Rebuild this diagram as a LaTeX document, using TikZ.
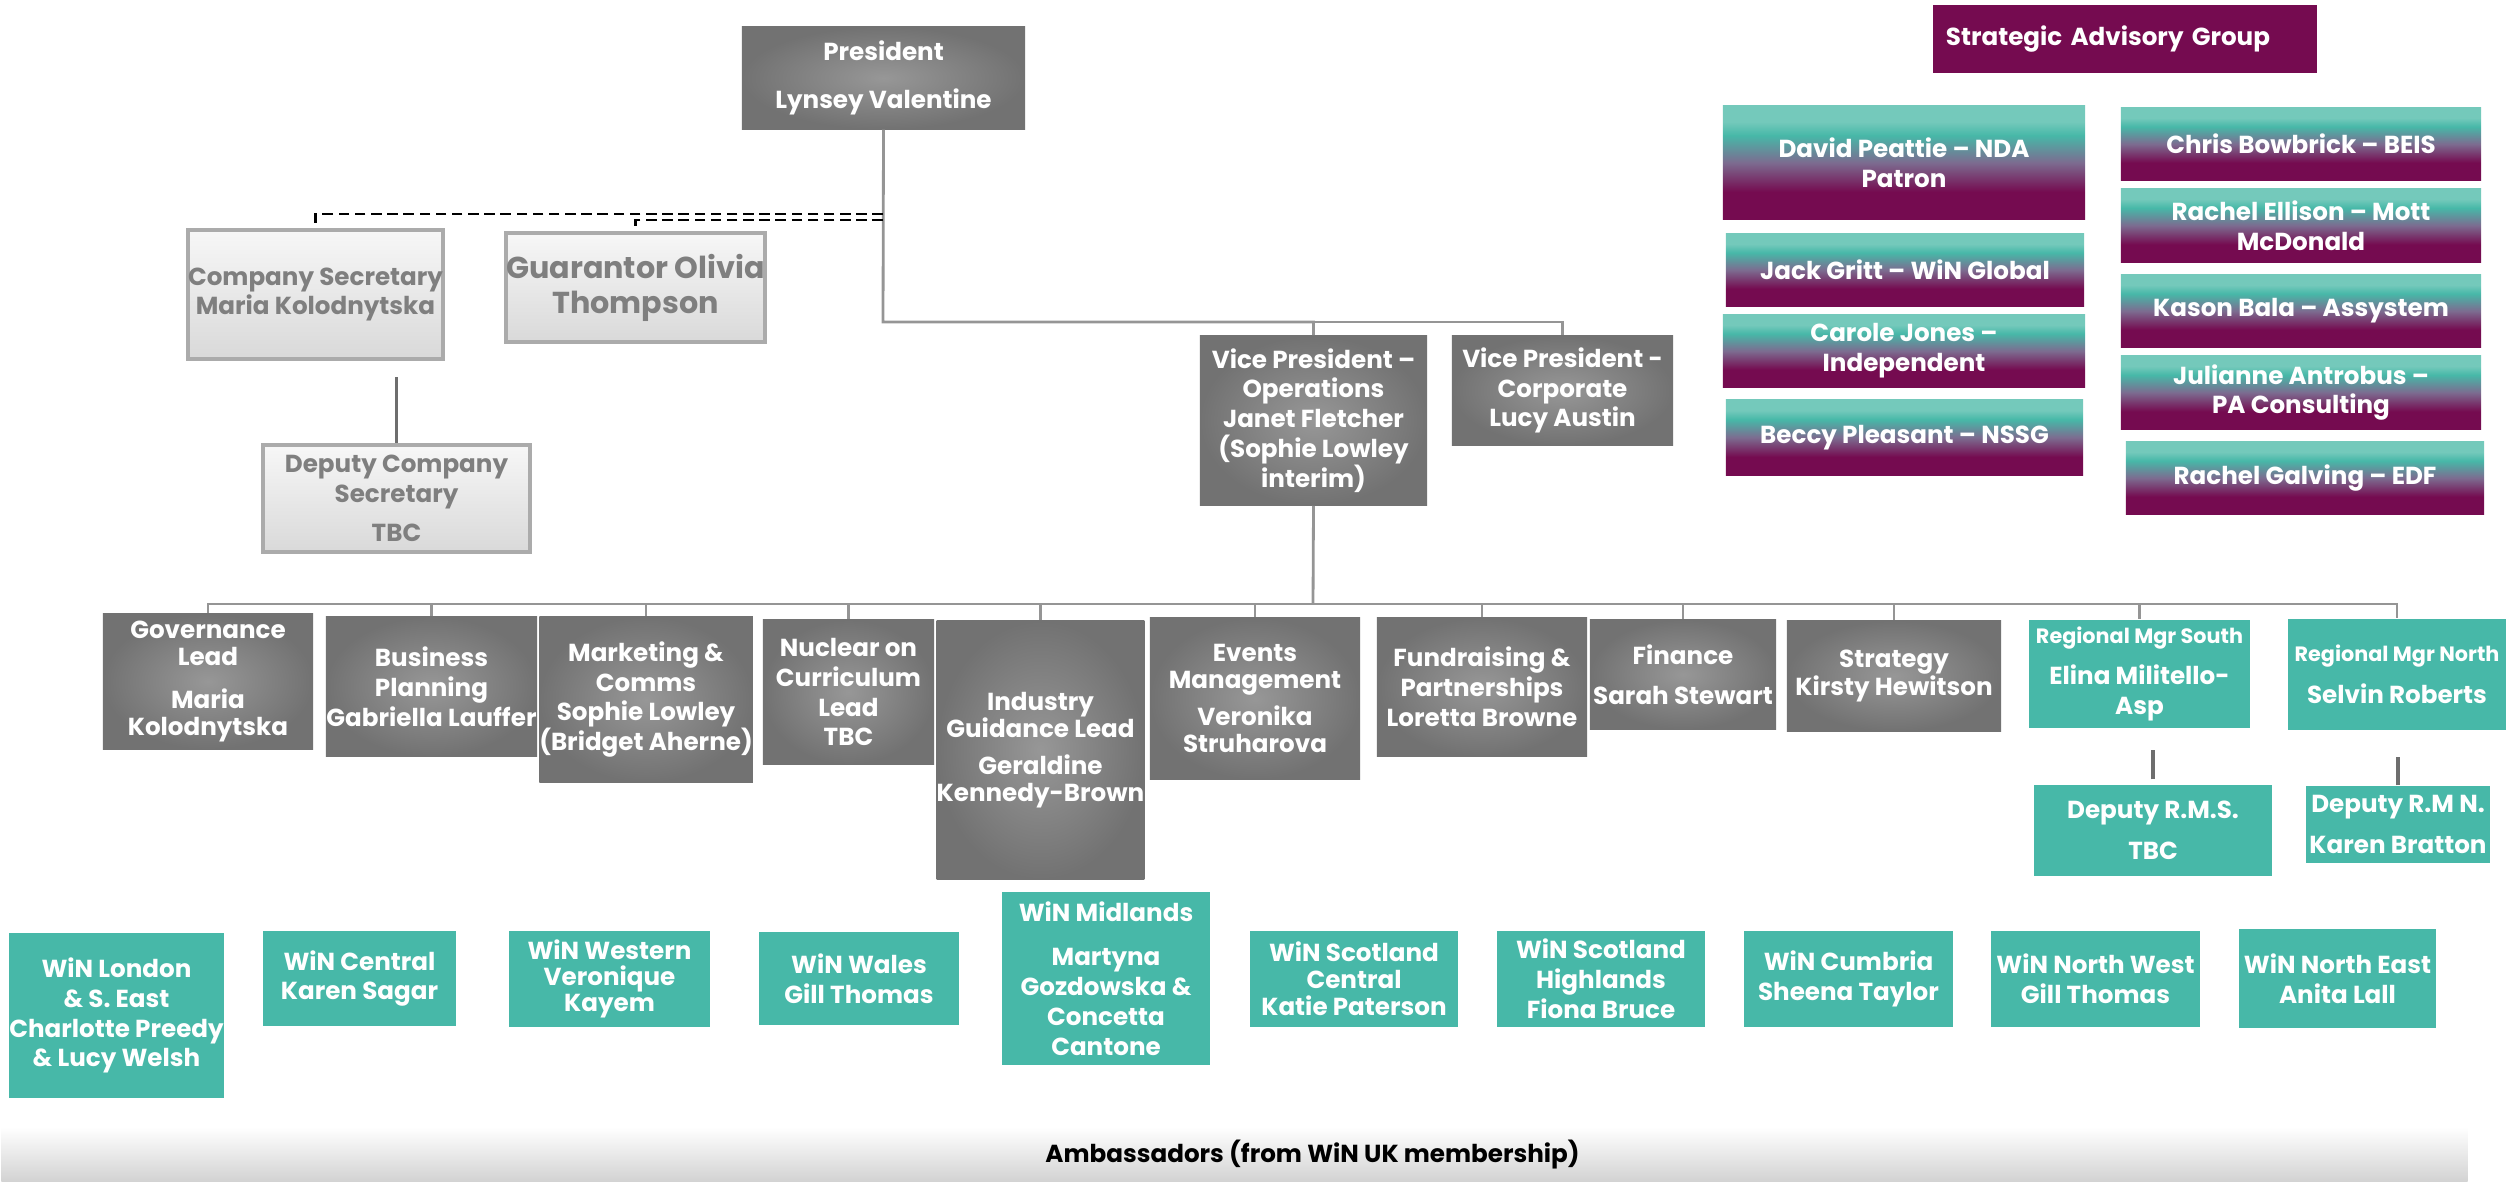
\documentclass[tikz,border=0pt]{standalone}
\usepackage{fontspec}
\setmainfont{Poppins}
\usetikzlibrary{positioning}

\definecolor{wingrey}{HTML}{727272}
\definecolor{wingreyc}{HTML}{979797}
\definecolor{winteal}{HTML}{47B8A8}
\definecolor{teallight}{HTML}{74C9BB}
\definecolor{sagmid}{HTML}{7C6C90}
\definecolor{winpurple}{HTML}{750B50}
\definecolor{linegrey}{HTML}{959595}
\definecolor{darkline}{HTML}{6E6E6E}
\definecolor{softgrey}{HTML}{7F7F7F}
\definecolor{paletop}{HTML}{F7F7F7}
\definecolor{palebot}{HTML}{D9D9D9}
\definecolor{paleline}{HTML}{ABABAB}
\definecolor{barbot}{HTML}{D2D2D2}
\pgfdeclareverticalshading{sagfade}{100bp}{color(0bp)=(winpurple); color(25bp)=(winpurple); color(37bp)=(winpurple); color(50bp)=(sagmid); color(62bp)=(winteal); color(68bp)=(teallight); color(100bp)=(teallight)}

\begin{document}
\begin{tikzpicture}[x=0.01cm, y=-0.01cm]
\tikzstyle{every node}+=[inner sep=0pt, align=center, font=\bfseries\fontsize{7}{8.5}\selectfont]
\tikzstyle{darkbox}=[rectangle, inner color=wingreyc, outer color=wingrey, text=white]
\tikzstyle{palebox}=[rectangle, top color=paletop, bottom color=palebot, draw=paleline, line width=1.2pt, text=softgrey]
\tikzstyle{tealbox}=[rectangle, fill=winteal, text=white]
\tikzstyle{sagbox}=[rectangle, fill=winpurple, text=white]
\tikzstyle{advbox}=[rectangle, shading=sagfade, text=white]
\tikzstyle{ambbar}=[rectangle, top color=white, bottom color=barbot]
\tikzstyle{conn}=[draw=linegrey, line width=0.8pt]
\tikzstyle{deputyline}=[draw=darkline, line width=1.1pt]
\tikzstyle{secline}=[draw=black, line width=0.7pt, dash pattern=on 3pt off 1.6pt]
\useasboundingbox (0,0) rectangle (2509,1182);

\node[darkbox, minimum width=2.83cm, minimum height=1.02cm] (pres) at (883.5,78) {President\\[5pt]Lynsey Valentine};
\node[sagbox, minimum width=3.84cm, minimum height=0.68cm, text width=3.58cm, align=left] (sag) at (2125,39) {Strategic Advisory Group};

\node[advbox, minimum width=3.62cm, minimum height=1.13cm] (peattie) at (1904,162.5) {David Peattie -- NDA\\Patron};
\node[advbox, minimum width=3.58cm, minimum height=0.72cm] (gritt) at (1905,270) {Jack Gritt -- WiN Global};
\node[advbox, minimum width=3.62cm, minimum height=0.72cm] (jones) at (1904,351) {Carole Jones --\\Independent};
\node[advbox, minimum width=3.57cm, minimum height=0.75cm] (pleasant) at (1904.5,437.5) {Beccy Pleasant -- NSSG};
\node[advbox, minimum width=3.60cm, minimum height=0.72cm] (bowbrick) at (2301,144) {Chris Bowbrick -- BEIS};
\node[advbox, minimum width=3.60cm, minimum height=0.73cm] (ellison) at (2301,225.5) {Rachel Ellison -- Mott\\McDonald};
\node[advbox, minimum width=3.60cm, minimum height=0.72cm] (bala) at (2301,311) {Kason Bala -- Assystem};
\node[advbox, minimum width=3.60cm, minimum height=0.73cm] (antrobus) at (2301,392.5) {Julianne Antrobus --\\PA Consulting};
\node[advbox, minimum width=3.58cm, minimum height=0.72cm] (galving) at (2305,478) {Rachel Galving -- EDF};

\node[palebox, minimum width=2.55cm, minimum height=1.29cm] (cs) at (315.5,294.5) {Company Secretary\\Maria Kolodnytska};
\node[palebox, minimum width=2.55cm, minimum height=1.09cm, font=\bfseries\fontsize{8.6}{10}\selectfont] (guar) at (635.5,287.5) {Guarantor Olivia\\Thompson};
\node[palebox, minimum width=2.67cm, minimum height=1.07cm] (dcs) at (396.5,498.5) {Deputy Company\\Secretary\\[2.5pt]TBC};

\node[darkbox, minimum width=2.27cm, minimum height=1.69cm] (vpops) at (1313.5,420.5) {Vice President --\\Operations\\Janet Fletcher\\(Sophie Lowley\\interim)};
\node[darkbox, minimum width=2.21cm, minimum height=1.09cm] (vpcorp) at (1562.5,390.5) {Vice President -\\Corporate\\Lucy Austin};

\node[darkbox, minimum width=2.10cm, minimum height=1.35cm] (gov) at (208,681.5) {Governance\\[-0.8pt]Lead\\[3.5pt]Maria\\[-0.8pt]Kolodnytska};
\node[darkbox, minimum width=2.11cm, minimum height=1.39cm] (bp) at (431.5,686.5) {Business\\Planning\\Gabriella Lauffer};
\node[darkbox, minimum width=2.10cm, minimum height=1.65cm] (mkt) at (646,699.5) {Marketing \&\\Comms\\Sophie Lowley\\(Bridget Aherne)};
\node[darkbox, minimum width=1.71cm, minimum height=1.44cm] (ncl) at (848.5,692) {Nuclear on\\Curriculum\\Lead\\TBC};
\node[darkbox, minimum width=2.03cm, minimum height=2.58cm] (ind) at (1040.5,750) {Industry\\[-0.8pt]Guidance Lead\\[2pt]Geraldine\\[-0.8pt]Kennedy-Brown};
\node[darkbox, minimum width=2.10cm, minimum height=1.61cm] (evt) at (1255,698.5) {Events\\[-0.8pt]Management\\[2pt]Veronika\\[-0.8pt]Struharova};
\node[darkbox, minimum width=2.10cm, minimum height=1.38cm] (fund) at (1482,687) {Fundraising \&\\Partnerships\\Loretta Browne};
\node[darkbox, minimum width=1.86cm, minimum height=1.09cm] (fin) at (1683,674.5) {Finance\\[3pt]Sarah Stewart};
\node[darkbox, minimum width=2.14cm, minimum height=1.10cm] (strat) at (1894,676) {Strategy\\[-0.8pt]Kirsty Hewitson};
\node[tealbox, minimum width=2.21cm, minimum height=1.08cm] (rms) at (2139.5,674) {{\fontsize{5.9}{7}\selectfont Regional Mgr South}\\[3pt]Elina Militello-\\Asp};
\node[tealbox, minimum width=2.18cm, minimum height=1.11cm] (rmn) at (2397,674.5) {{\fontsize{5.9}{7}\selectfont Regional Mgr North}\\[3.5pt]Selvin Roberts};
\node[tealbox, minimum width=2.38cm, minimum height=0.91cm] (drms) at (2153,830.5) {Deputy R.M.S.\\[3pt]TBC};
\node[tealbox, minimum width=1.84cm, minimum height=0.77cm] (drmn) at (2398,824.5) {Deputy R.M N.\\[3pt]Karen Bratton};

\node[tealbox, minimum width=2.09cm, minimum height=1.65cm] (london) at (116.5,1015.5) {WiN London\\\& S. East\\Charlotte Preedy\\\& Lucy Welsh};
\node[tealbox, minimum width=1.93cm, minimum height=0.95cm] (central) at (359.5,978.5) {WiN Central\\Karen Sagar};
\node[tealbox, minimum width=2.01cm, minimum height=0.96cm] (western) at (609.5,979) {WiN Western\\[-1pt]Veronique\\[-1pt]Kayem};
\node[tealbox, minimum width=2.00cm, minimum height=0.93cm] (wales) at (859,978.5) {WiN Wales\\Gill Thomas};
\node[tealbox, minimum width=2.08cm, minimum height=1.73cm] (midlands) at (1106,978.5) {WiN Midlands\\[4pt]Martyna\\Gozdowska \&\\Concetta\\Cantone};
\node[tealbox, minimum width=2.08cm, minimum height=0.96cm] (scotc) at (1354,979) {WiN Scotland\\[-0.8pt]Central\\[-0.8pt]Katie Paterson};
\node[tealbox, minimum width=2.08cm, minimum height=0.96cm] (scoth) at (1601,979) {WiN Scotland\\Highlands\\Fiona Bruce};
\node[tealbox, minimum width=2.09cm, minimum height=0.96cm] (cumbria) at (1848.5,979) {WiN Cumbria\\Sheena Taylor};
\node[tealbox, minimum width=2.09cm, minimum height=0.96cm] (northw) at (2095.5,979) {WiN North West\\Gill Thomas};
\node[tealbox, minimum width=1.97cm, minimum height=0.99cm] (northe) at (2337.5,978.5) {WiN North East\\Anita Lall};

\node[ambbar, minimum width=24.65cm, minimum height=0.55cm, label={[xshift=0.78cm, text=black]center:Ambassadors (from WiN UK membership)}] (amb) at (1234.5,1154.5) {};

\coordinate (vpbus) at (883,322);
\coordinate (secA) at (883,214);
\coordinate (secB) at (883,220);
\coordinate (opsbus) at (1313,604);

\draw[conn] (pres.south) -- (vpbus) -| (vpops.north);
\draw[conn] (vpbus) -| (vpcorp.north);
\draw[secline] (secA) -| (cs.north);
\draw[secline] (secB) -| (guar.north);
\draw[deputyline, shorten >=0.16cm] (dcs.north) -- (dcs.north |- cs.south);

\draw[conn] (vpops.south) -- (opsbus);
\foreach \n in {gov,bp,mkt,ncl,ind,evt,fund,fin,strat,rms,rmn}
  \draw[conn] (opsbus) -| (\n.north);

\draw[deputyline, shorten <=0.05cm, shorten >=0.21cm] (drms.north) -- (drms.north |- rms.south);
\draw[deputyline, shorten >=0.26cm] (drmn.north) -- (drmn.north |- rmn.south);
\end{tikzpicture}
\end{document}
